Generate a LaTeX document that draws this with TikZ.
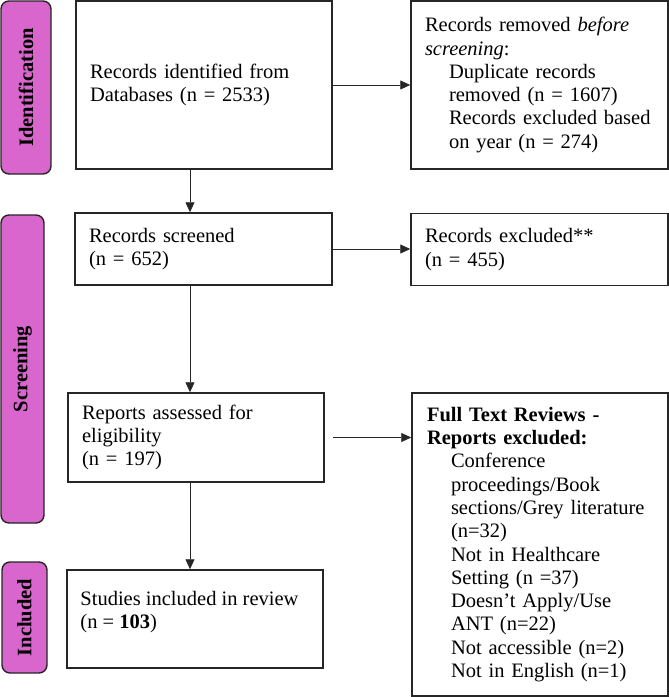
\documentclass[tikz,border=0pt]{standalone}
\usepackage{fontspec}
\setmainfont{Liberation Serif}
\usetikzlibrary{arrows.meta,calc}
\definecolor{bandpink}{RGB}{217,102,204}
\begin{document}
\begin{tikzpicture}[x=1pt,y=-1pt,
  every node/.style={font=\fontsize{20.5}{23.3}\selectfont},
  box/.style={draw=black!85,line width=1.5pt,rectangle,align=left,inner xsep=14pt,inner ysep=0pt},
  band/.style={draw=black!85,line width=1.4pt,fill=bandpink,rounded corners=8pt,rotate=90,
    font=\fontsize{20.5}{23.3}\selectfont\bfseries,inner sep=0pt},
  arr/.style={line width=0.8pt,draw=black!85,-{Triangle[length=10pt,width=9pt]}}]
\useasboundingbox (0,0) rectangle (669,697);
% phase bands
\node[band,minimum width=173pt,minimum height=50pt] (bident) at (26,87.5) {Identification};
\node[band,minimum width=308pt,minimum height=43pt] (bscreen) at (22.5,369) {Screening};
\node[band,minimum width=111pt,minimum height=45pt] (bincl) at (24.5,617.5) {Included};
% boxes
\node[box,text width=228pt,minimum height=168pt] (box1) at (204,85)
  {Records identified from\\Databases (n = 2533)};
\node[box,text width=229pt,minimum height=168pt] (right1) at (539.5,85)
  {Records removed \textit{before}\\
   \textit{screening}:\\
   \hspace*{24pt}Duplicate records\\
   \hspace*{24pt}removed (n = 1607)\\
   \hspace*{24pt}Records excluded based\\
   \hspace*{24pt}on year (n = 274)};
\node[box,text width=229pt,minimum height=72pt] (box2) at (203.5,249)
  {Records screened\\(n = 652)};
\node[box,text width=229pt,minimum height=72pt] (right2) at (539.5,249.5)
  {Records excluded**\\(n = 455)};
\node[box,text width=228pt,minimum height=89pt] (box3) at (196,437.5)
  {Reports assessed for\\eligibility\\(n = 197)};
\node[box,text width=228pt,minimum height=98pt] (box4) at (195,619) {};
\node[anchor=west,align=left,inner sep=0pt] (box4txt) at ($(box4.west)+(14,-7)$)
  {Studies included in review\\(n = \textbf{103})};
\node[box,text width=226pt,inner xsep=15pt,minimum height=303pt] (right3) at (540,544.5)
  {\textbf{Full Text Reviews -}\\
   \textbf{Reports excluded:}\\
   \hspace*{24pt}Conference\\
   \hspace*{24pt}proceedings/Book\\
   \hspace*{24pt}sections/Grey literature\\
   \hspace*{24pt}(n=32)\\
   \hspace*{24pt}Not in Healthcare\\
   \hspace*{24pt}Setting (n =37)\\
   \hspace*{24pt}Doesn’t Apply/Use\\
   \hspace*{24pt}ANT (n=22)\\
   \hspace*{24pt}Not accessible (n=2)\\
   \hspace*{24pt}Not in English (n=1)};
% connectors
\coordinate (ax) at (190,0);
\draw[arr] (box1.south -| ax) -- (box2.north -| ax);
\draw[arr] (box2.south -| ax) -- (box3.north -| ax);
\draw[arr] (box3.south -| ax) -- (box4.north -| ax);
\draw[arr] (box1.east) -- (right1.west);
\draw[arr] (box2.east) -- (box2.east -| right2.west);
\draw[arr] ([xshift=8pt]box3.east) -- (box3.east -| right3.west);
\end{tikzpicture}
\end{document}
